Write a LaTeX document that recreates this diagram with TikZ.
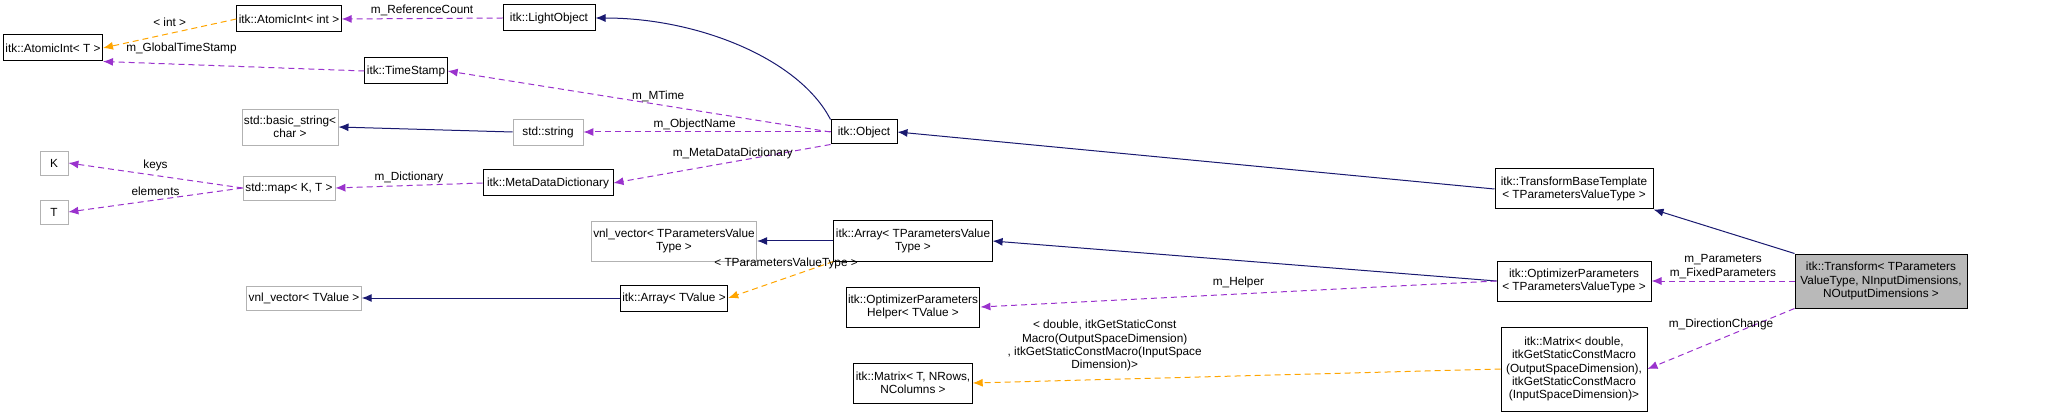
\documentclass[tikz,border=0pt]{standalone}
\usepackage{fontspec}
\setmainfont{Liberation Sans}
\usetikzlibrary{arrows.meta}
\definecolor{usecol}{HTML}{9A32CD}
\definecolor{inhcol}{HTML}{191970}
\definecolor{tplcol}{HTML}{FFA500}
\tikzset{
  cls/.style={draw, rectangle, line width=0.5pt, inner sep=1pt, align=center, font=\fontsize{5.9}{6.6}\selectfont},
  ext/.style={cls, draw=gray!60, line width=0.4pt},
  base/.style={cls, fill=gray!55},
  use/.style={-{Latex[length=5pt,width=4pt]}, usecol, dashed, dash pattern=on 3pt off 2pt, line width=0.5pt},
  inh/.style={-{Latex[length=5pt,width=4pt]}, inhcol, line width=0.5pt},
  tpl/.style={-{Latex[length=5pt,width=4pt]}, tplcol, dashed, dash pattern=on 3pt off 2pt, line width=0.5pt},
  lbl/.style={font=\fontsize{5.9}{6.6}\selectfont, align=center, inner sep=0pt, text=black}
}
\begin{document}
\begin{tikzpicture}[x=0.5pt, y=-0.5pt]
		\useasboundingbox (0,0) rectangle (2069,417);
		
		%Blocks
		\node (AtomicIntT) at (53,48) [cls, minimum width=49pt, minimum height=13pt]{itk::AtomicInt< T >};
		\node (AtomicIntInt) at (289,19) [cls, minimum width=52pt, minimum height=13pt]{itk::AtomicInt< int >};
		\node (LightObject) at (549,18) [cls, minimum width=46pt, minimum height=13pt]{itk::LightObject};
		\node (TimeStamp) at (406,71) [cls, minimum width=41pt, minimum height=13pt]{itk::TimeStamp};
		\node (BasicString) at (290,127) [ext, minimum width=47pt, minimum height=18pt]{std::basic\_string<\\char >};
		\node (StdString) at (548,132) [ext, minimum width=35pt, minimum height=13pt]{std::string};
		\node (K) at (54,163) [ext, minimum width=14pt, minimum height=12pt]{K};
		\node (T) at (54,212) [ext, minimum width=14pt, minimum height=12pt]{T};
		\node (StdMap) at (289,188) [ext, minimum width=46pt, minimum height=12pt]{std::map< K, T >};
		\node (MetaDataDictionary) at (548,183) [cls, minimum width=65pt, minimum height=13pt]{itk::MetaDataDictionary};
		\node (Object) at (864,132) [cls, minimum width=33pt, minimum height=12pt]{itk::Object};
		\node (TransformBase) at (1574,189) [cls, minimum width=79pt, minimum height=20pt]{itk::TransformBaseTemplate\\< TParametersValueType >};
		\node (VnlTPVT) at (674,241) [ext, minimum width=59pt, minimum height=20pt]{vnl\_vector< TParametersValue\\Type >};
		\node (ArrayTPVT) at (913,241) [cls, minimum width=57pt, minimum height=20pt]{itk::Array< TParametersValue\\Type >};
		\node (OptParams) at (1574,281) [cls, minimum width=77pt, minimum height=20pt]{itk::OptimizerParameters\\< TParametersValueType >};
		\node (Transform) at (1881,281) [base, minimum width=86pt, minimum height=27pt]{itk::Transform< TParameters\\ValueType, NInputDimensions,\\NOutputDimensions >};
		\node (VnlTValue) at (304,298) [ext, minimum width=57pt, minimum height=12pt]{vnl\_vector< TValue >};
		\node (ArrayTValue) at (674,298) [cls, minimum width=41pt, minimum height=13pt]{itk::Array< TValue >};
		\node (OptHelper) at (913,307) [cls, minimum width=48pt, minimum height=20pt]{itk::OptimizerParameters\\Helper< TValue >};
		\node (MatrixT) at (913,383) [cls, minimum width=45pt, minimum height=20pt]{itk::Matrix< T, NRows,\\NColumns >};
		\node (MatrixDouble) at (1574,369) [cls, minimum width=73pt, minimum height=42pt]{itk::Matrix< double,\\itkGetStaticConstMacro\\(OutputSpaceDimension),\\itkGetStaticConstMacro\\(InputSpaceDimension)>};
		
		%Links
		\draw[tpl] (AtomicIntInt.west) -- node[lbl, above=3pt]{< int >} (AtomicIntT.east);
		\draw[use] (LightObject.west) -- node[lbl, above=1pt]{m\_ReferenceCount} (AtomicIntInt.east);
		\draw[use] (TimeStamp.west) -- node[lbl, above=5pt, pos=0.7]{m\_GlobalTimeStamp} (AtomicIntT.south east);
		\draw[use] (Object.west) -- node[lbl, above=1pt, pos=0.45]{m\_MTime} (TimeStamp.east);
		\draw[inh] (Object.north west) .. controls (800,60) and (700,18) .. (LightObject.east);
		\draw[inh] (StdString.west) -- (BasicString.east);
		\draw[use] (Object.west) -- node[lbl, above=1pt, pos=0.55]{m\_ObjectName} (StdString.east);
		\draw[use] (Object.south west) -- node[lbl, above=1pt, pos=0.45]{m\_MetaDataDictionary} (MetaDataDictionary.east);
		\draw[use] (MetaDataDictionary.west) -- node[lbl, above=1pt]{m\_Dictionary} (StdMap.east);
		\draw[use] (StdMap.west) -- node[lbl, above=2pt]{keys} (K.east);
		\draw[use] (StdMap.west) -- node[lbl, above=2pt]{elements} (T.east);
		\draw[inh] (TransformBase.west) -- (Object.east);
		\draw[inh] (Transform.north west) -- (TransformBase.south east);
		\draw[use] (Transform.west) -- node[lbl, above=1pt]{m\_Parameters\\m\_FixedParameters} (OptParams.east);
		\draw[use] (Transform.south west) -- node[lbl, above=4pt]{m\_DirectionChange} (MatrixDouble.east);
		\draw[inh] (OptParams.west) -- (ArrayTPVT.east);
		\draw[inh] (ArrayTPVT.west) -- (VnlTPVT.east);
		\draw[tpl] (ArrayTPVT.south west) -- node[lbl, above=4pt, pos=0.45]{< TParametersValueType >} (ArrayTValue.east);
		\draw[inh] (ArrayTValue.west) -- (VnlTValue.east);
		\draw[use] (OptParams.west) -- node[lbl, above=3pt]{m\_Helper} (OptHelper.east);
		\draw[tpl] (MatrixDouble.west) -- node[lbl, above=4pt, pos=0.75]{< double, itkGetStaticConst\\Macro(OutputSpaceDimension)\\, itkGetStaticConstMacro(InputSpace\\Dimension)>} (MatrixT.east);
		
\end{tikzpicture}
\end{document}
